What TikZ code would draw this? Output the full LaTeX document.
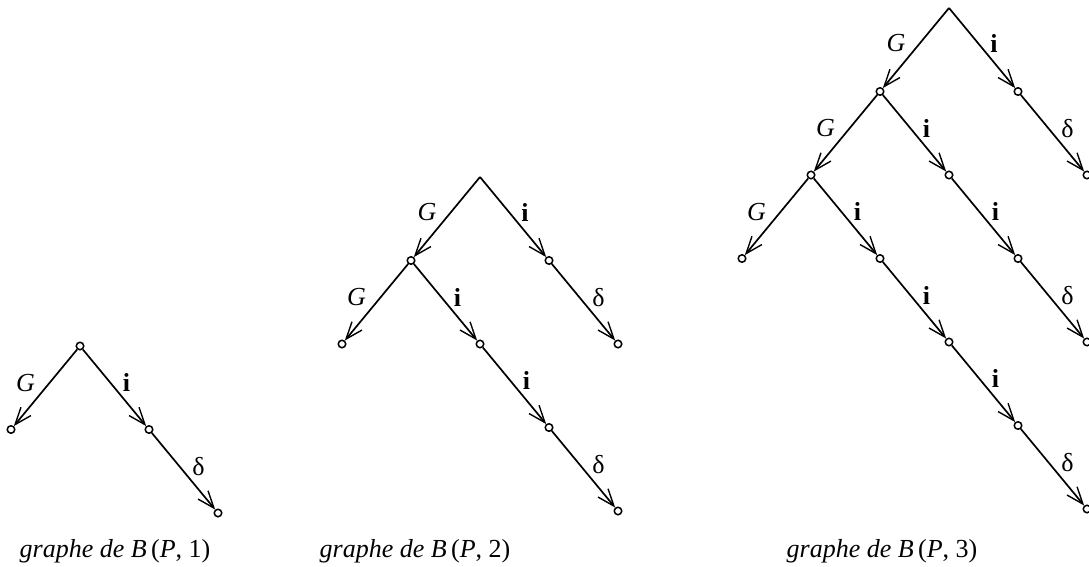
\documentclass[tikz,border=0pt]{standalone}
\usepackage{fontspec}
\setmainfont{Liberation Serif}
\usetikzlibrary{arrows.meta}
\begin{document}
\begin{tikzpicture}[x=1pt,y=1pt,
  every node/.style={font=\fontsize{26}{30}\selectfont},
  pt/.style={circle,draw,fill=white,line width=1.5pt,inner sep=0pt,minimum size=7.5pt},
  arr/.style={line width=1.7pt,-{Straight Barb[length=17pt,width=13pt,line width=1.4pt]}},
  glab/.style={midway,xshift=-20pt,yshift=5pt,inner sep=0pt},
  ilab/.style={midway,xshift=12pt,yshift=5pt,inner sep=0pt},
  dlab/.style={midway,xshift=15pt,yshift=5pt,inner sep=0pt},
  captext/.style={anchor=base}]
\useasboundingbox (0,0) rectangle (1089,-567);
% ---------- graph 1
\node[pt] (a0) at (80,-346) {};
\node[pt] (aL) at (11,-429.5) {};
\node[pt] (aR) at (149,-429.5) {};
\node[pt] (aRR) at (218,-513) {};
\draw[arr] (a0) -- (aL) node[glab] {\textit{G}};
\draw[arr] (a0) -- (aR) node[ilab] {\textbf{i}};
\draw[arr] (aR) -- (aRR) node[dlab] {δ};
\node[captext] (c1) at (115,-557) {\textit{graphe de B}\,(\textit{P}, 1)};
% ---------- graph 2
\coordinate (b0) at (480,-177);
\node[pt] (bL) at (411,-260.5) {};
\node[pt] (bR) at (549,-260.5) {};
\node[pt] (bLL) at (342,-344) {};
\node[pt] (bLR) at (480,-344) {};
\node[pt] (bRR) at (618,-344) {};
\node[pt] (bLRR) at (549,-427.5) {};
\node[pt] (bLRRR) at (618,-511) {};
\draw[arr] (b0) -- (bL) node[glab] {\textit{G}};
\draw[arr] (b0) -- (bR) node[ilab] {\textbf{i}};
\draw[arr] (bR) -- (bRR) node[dlab] {δ};
\draw[arr] (bL) -- (bLL) node[glab] {\textit{G}};
\draw[arr] (bL) -- (bLR) node[ilab] {\textbf{i}};
\draw[arr] (bLR) -- (bLRR) node[ilab] {\textbf{i}};
\draw[arr] (bLRR) -- (bLRRR) node[dlab] {δ};
\node[captext] (c2) at (415,-557) {\textit{graphe de B}\,(\textit{P}, 2)};
% ---------- graph 3
\coordinate (d0) at (949,-8);
\node[pt] (dL) at (880,-91.5) {};
\node[pt] (dR) at (1018,-91.5) {};
\node[pt] (dRR) at (1087,-175) {};
\node[pt] (dLL) at (811,-175) {};
\node[pt] (dLR) at (949,-175) {};
\node[pt] (dLLL) at (742,-258.5) {};
\node[pt] (dLLR) at (880,-258.5) {};
\node[pt] (dLRR) at (1018,-258.5) {};
\node[pt] (dLRRR) at (1087,-342) {};
\node[pt] (dLLRR) at (949,-342) {};
\node[pt] (dLLRRR) at (1018,-425.5) {};
\node[pt] (dLLRRRR) at (1087,-509) {};
\draw[arr] (d0) -- (dL) node[glab] {\textit{G}};
\draw[arr] (d0) -- (dR) node[ilab] {\textbf{i}};
\draw[arr] (dR) -- (dRR) node[dlab] {δ};
\draw[arr] (dL) -- (dLL) node[glab] {\textit{G}};
\draw[arr] (dL) -- (dLR) node[ilab] {\textbf{i}};
\draw[arr] (dLL) -- (dLLL) node[glab] {\textit{G}};
\draw[arr] (dLL) -- (dLLR) node[ilab] {\textbf{i}};
\draw[arr] (dLR) -- (dLRR) node[ilab] {\textbf{i}};
\draw[arr] (dLRR) -- (dLRRR) node[dlab] {δ};
\draw[arr] (dLLR) -- (dLLRR) node[ilab] {\textbf{i}};
\draw[arr] (dLLRR) -- (dLLRRR) node[ilab] {\textbf{i}};
\draw[arr] (dLLRRR) -- (dLLRRRR) node[dlab] {δ};
\node[captext] (c3) at (882,-557) {\textit{graphe de B}\,(\textit{P}, 3)};
\end{tikzpicture}
\end{document}
